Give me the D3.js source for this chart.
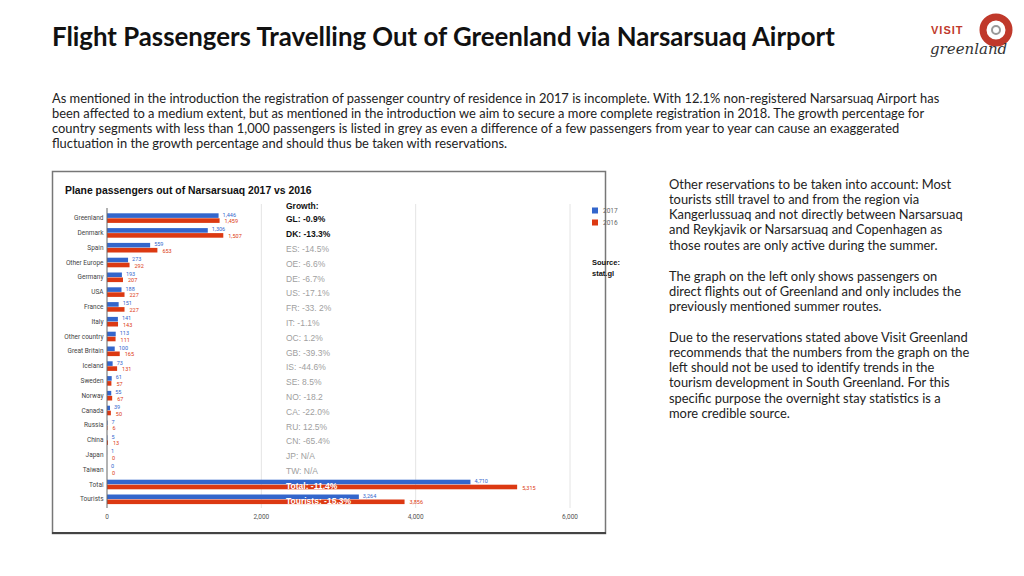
<!DOCTYPE html>
<html><head><meta charset="utf-8">
<script src="https://cdn.jsdelivr.net/npm/d3@7"></script>
<style>
html,body{margin:0;padding:0;background:#fff;}
svg{display:block;}
</style></head>
<body>
<svg id="c" width="1024" height="576"></svg>
<script>
const categories = ["Greenland","Denmark","Spain","Other Europe","Germany","USA","France","Italy","Other country","Great Britain","Iceland","Sweden","Norway","Canada","Russia","China","Japan","Taiwan","Total","Tourists"];
const values2017 = [1446,1306,559,273,193,188,151,141,113,100,73,61,55,39,7,5,1,0,4710,3264];
const values2016 = [1459,1507,653,292,207,227,227,143,111,165,131,57,67,50,6,13,0,0,5315,3856];
const growthLabels = ["GL: -0.9%","DK: -13.3%","ES: -14.5%","OE: -6.6%","DE: -6.7%","US: -17.1%","FR: -33. 2%","IT: -1.1%","OC: 1.2%","GB: -39.3%","IS: -44.6%","SE: 8.5%","NO: -18.2","CA: -22.0%","RU: 12.5%","CN: -65.4%","JP: N/A","TW: N/A","Total: -11.4%","Tourists: -15.3%"];
const growthStyle = ["bold","bold","grey","grey","grey","grey","grey","grey","grey","grey","grey","grey","grey","grey","grey","grey","grey","grey","white","white"];
const xTicks = [0,2000,4000,6000];
const seriesNames = ["2017","2016"];
const seriesColors = ["#3366cc","#dc3912"];

const title = "Flight Passengers Travelling Out of Greenland via Narsarsuaq Airport";
const introLines = [
 "As mentioned in the introduction the registration of passenger country of residence in 2017 is incomplete. With 12.1% non-registered Narsarsuaq Airport has",
 "been affected to a medium extent, but as mentioned in the introduction we aim to secure a more complete registration in 2018. The growth percentage for",
 "country segments with less than 1,000 passengers is listed in grey as even a difference of a few passengers from year to year can cause an exaggerated",
 "fluctuation in the growth percentage and should thus be taken with reservations."
];
const sideParas = [
 ["Other reservations to be taken into account: Most","tourists still travel to and from the region via","Kangerlussuaq and not directly between Narsarsuaq","and Reykjavik or Narsarsuaq and Copenhagen as","those routes are only active during the summer."],
 ["The graph on the left only shows passengers on","direct flights out of Greenland and only includes the","previously mentioned summer routes."],
 ["Due to the reservations stated above Visit Greenland","recommends that the numbers from the graph on the","left should not be used to identify trends in the","tourism development in South Greenland. For this","specific purpose the overnight stay statistics is a","more credible source."]
];

const svg = d3.select("#c");
const lato = "Lato, 'Open Sans', sans-serif";
const gfont = "Roboto, Arial, sans-serif";
const hfont = "'Liberation Sans', Arial, sans-serif";

// Title
svg.append("text").attr("x",52).attr("y",46).attr("font-family",lato).attr("font-weight","bold")
  .attr("font-size",25.8).attr("fill","#111").text(title);

// Intro paragraph
introLines.forEach((l,i)=>{
  svg.append("text").attr("x",52).attr("y",102.5+i*15.3).attr("font-family",lato)
    .attr("font-size",12.9).attr("fill","#222").text(l);
});

// Side text
const sideStarts = [188.5, 280.5, 341.5];
sideParas.forEach((p,pi)=>{
  p.forEach((l,i)=>{
    svg.append("text").attr("x",669).attr("y",sideStarts[pi]+i*15.3).attr("font-family",lato)
      .attr("font-size",12.9).attr("fill","#222").text(l);
  });
});

// Logo
const logo = svg.append("g");
logo.append("circle").attr("cx",996).attr("cy",30).attr("r",13).attr("fill","none").attr("stroke","#c0392b").attr("stroke-width",7);
logo.append("circle").attr("cx",996).attr("cy",30).attr("r",4).attr("fill","#fff").attr("stroke","#999").attr("stroke-width",2);
logo.append("text").attr("x",931).attr("y",34).attr("font-family",hfont).attr("font-weight","bold")
  .attr("font-size",11).attr("fill","#c0392b").attr("letter-spacing",1).text("VISIT");
logo.append("text").attr("x",930).attr("y",54).attr("font-family","'DejaVu Serif', serif").attr("font-style","italic")
  .attr("font-size",15).attr("fill","#333").text("greenland");

// Chart box
svg.append("rect").attr("x",52.5).attr("y",171.5).attr("width",553).attr("height",362)
  .attr("fill","#fff").attr("stroke","#777").attr("stroke-width",1.5);
svg.append("line").attr("x1",52).attr("x2",606).attr("y1",533).attr("y2",533).attr("stroke","#444").attr("stroke-width",2);

svg.append("text").attr("x",65).attr("y",194).attr("font-family",hfont).attr("font-weight","bold")
  .attr("font-size",10.4).attr("fill","#111").text("Plane passengers out of Narsarsuaq 2017 vs 2016");

const x = d3.scaleLinear().domain([0,6000]).range([107,570]);
const y = d3.scaleBand().domain(categories).range([210.5,506.5]);
const bh = 4.6;

// gridlines
svg.append("g").selectAll("line").data(xTicks.slice(1)).join("line")
  .attr("x1",d=>x(d)).attr("x2",d=>x(d)).attr("y1",204).attr("y2",508)
  .attr("stroke","#e4e4e4").attr("stroke-width",1);

// x tick labels
svg.append("g").selectAll("text").data(xTicks).join("text")
  .attr("x",d=>x(d)).attr("y",518.5).attr("text-anchor","middle")
  .attr("font-family",gfont).attr("font-size",6.5).attr("fill","#555")
  .text(d=>d3.format(",")(d));

// category labels
svg.append("g").selectAll("text").data(categories).join("text")
  .attr("x",103.5).attr("y",d=>y(d)+y.bandwidth()/2+2.2).attr("text-anchor","end")
  .attr("font-family",gfont).attr("font-size",6.5).attr("fill","#444").text(d=>d);

// bars
const series = [values2017, values2016];
series.forEach((vals,si)=>{
  const g = svg.append("g");
  g.selectAll("rect").data(categories).join("rect")
    .attr("x",x(0)).attr("width",(d,i)=>x(vals[i])-x(0))
    .attr("y",d=>y(d)+y.bandwidth()/2 - (si===0?bh:0) + (si===0?0:0.4))
    .attr("height",bh).attr("fill",seriesColors[si]);
  g.selectAll("text").data(categories).join("text")
    .attr("x",(d,i)=>x(vals[i])+ (si===0?4:5))
    .attr("y",d=>y(d)+y.bandwidth()/2 + (si===0?-1.3:5.2))
    .attr("font-family",gfont).attr("font-size",5.5).attr("fill",seriesColors[si])
    .text((d,i)=>d3.format(",")(vals[i]));
});

// zero baseline
svg.append("line").attr("x1",x(0)).attr("x2",x(0)).attr("y1",208).attr("y2",508).attr("stroke","#666").attr("stroke-width",1);

// growth column
svg.append("text").attr("x",286).attr("y",209).attr("font-family",hfont).attr("font-weight","bold")
  .attr("font-size",8.5).attr("fill","#111").text("Growth:");
svg.append("g").selectAll("text").data(categories).join("text")
  .attr("x",286).attr("y",d=>y(d)+y.bandwidth()/2+4.5)
  .attr("font-family",hfont).attr("font-size",8.5)
  .attr("font-weight",(d,i)=>growthStyle[i]==="grey"?"normal":"bold")
  .attr("fill",(d,i)=>growthStyle[i]==="bold"?"#111":growthStyle[i]==="white"?"#fff":"#a0a0a0")
  .text((d,i)=>growthLabels[i]);

// legend
seriesNames.forEach((n,i)=>{
  svg.append("rect").attr("x",592).attr("y",207.5+i*12).attr("width",6).attr("height",6).attr("fill",seriesColors[i]);
  svg.append("text").attr("x",603).attr("y",213+i*12).attr("font-family",gfont).attr("font-size",6.5).attr("fill","#666").text(n);
});
svg.append("text").attr("x",592).attr("y",264.5).attr("font-family",hfont).attr("font-weight","bold").attr("font-size",7.5).attr("fill","#111").text("Source:");
svg.append("text").attr("x",592).attr("y",275.5).attr("font-family",hfont).attr("font-weight","bold").attr("font-size",7.5).attr("fill","#111").text("stat.gl");
</script>
</body></html>
